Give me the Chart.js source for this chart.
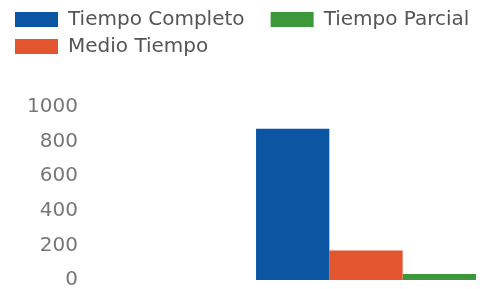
<!DOCTYPE html>
<html>
<head>
<meta charset="utf-8">
<script src="https://cdn.jsdelivr.net/npm/chart.js@4"></script>
<style>
html,body{margin:0;padding:0;background:#fff;overflow:hidden}
#wrap{width:484px;height:289px;position:relative}
</style>
</head>
<body>
<div id="wrap"><canvas id="c"></canvas></div>
<script>
const categories = ['Jornada'];
const seriesNames = ['Tiempo Completo', 'Medio Tiempo', 'Tiempo Parcial'];
const seriesColors = ['#0b56a3', '#e2552f', '#3d983b'];
const tiempoCompleto = [875];
const medioTiempo = [170];
const tiempoParcial = [35];
const yTicks = [0, 200, 400, 600, 800, 1000];
const legendOrder = ['Tiempo Completo', 'Tiempo Parcial', 'Medio Tiempo'];

const seriesValues = [tiempoCompleto, medioTiempo, tiempoParcial];
const FONT = 'DejaVu Sans';

const legendGap = {
  id: 'legendGap',
  beforeLayout(chart) {
    const lg = chart.legend;
    if (lg && !lg._gapPatched) {
      const f = lg.fit;
      lg.fit = function () { f.call(this); this.height += 40.5; };
      lg._gapPatched = true;
    }
  }
};

new Chart(document.getElementById('c'), {
  type: 'bar',
  data: {
    labels: categories,
    datasets: seriesNames.map((n, i) => ({
      label: n,
      data: seriesValues[i],
      backgroundColor: seriesColors[i],
      borderWidth: 0,
      barPercentage: 1,
      categoryPercentage: 0.932
    }))
  },
  options: {
    responsive: true,
    maintainAspectRatio: false,
    animation: false,
    devicePixelRatio: 1,
    layout: { padding: { left: 8, right: 0, top: 2.5, bottom: 9 } },
    plugins: {
      tooltip: { enabled: false },
      legend: {
        display: true,
        position: 'top',
        align: 'start',
        labels: {
          boxWidth: 43,
          boxHeight: 15,
          padding: 7,
          color: '#555',
          font: { family: FONT, size: 20 },
          generateLabels(chart) {
            const items = Chart.defaults.plugins.legend.labels.generateLabels(chart);
            items.sort((a, b) => legendOrder.indexOf(a.text) - legendOrder.indexOf(b.text));
            items[0].text += '   ';
            return items;
          }
        }
      }
    },
    scales: {
      x: { display: false, offset: true },
      y: {
        min: yTicks[0],
        max: yTicks[yTicks.length - 1],
        grid: { display: false, drawTicks: false },
        border: { display: false },
        ticks: {
          stepSize: yTicks[1] - yTicks[0],
          padding: 170,
          color: '#777',
          font: { family: FONT, size: 20 },
          callback: (v) => String(v)
        },
        afterFit(s) { s.width = 240; s.paddingTop = 0; s.paddingBottom = 0; }
      }
    }
  },
  plugins: [legendGap]
});
</script>
</body>
</html>
